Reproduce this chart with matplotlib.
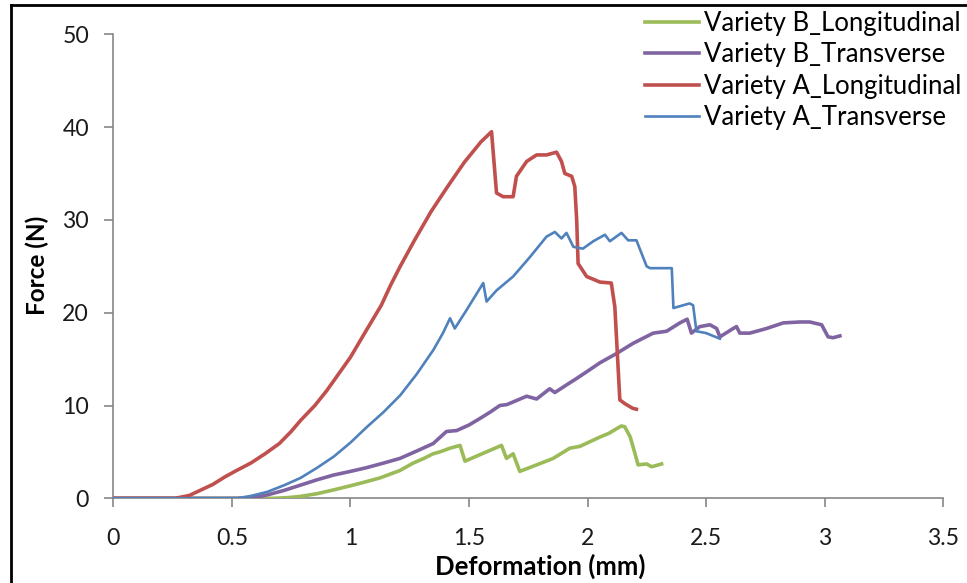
import matplotlib
matplotlib.use("Agg")
import matplotlib.pyplot as plt
from matplotlib.lines import Line2D

plt.rcParams['font.family'] = ['Lato', 'DejaVu Sans']

# Variety A_Longitudinal
a_long_x = [0, 0.26, 0.32, 0.37, 0.42, 0.47, 0.52, 0.58, 0.64, 0.70, 0.75, 0.79, 0.85, 0.90, 0.95,
            1.00, 1.06, 1.13, 1.17, 1.21, 1.27, 1.34, 1.41, 1.48, 1.55, 1.595,
            1.616, 1.644, 1.686, 1.70, 1.743, 1.785, 1.827, 1.869, 1.89, 1.904, 1.933, 1.946, 1.954,
            1.96, 1.996, 2.052, 2.10, 2.115, 2.136, 2.157, 2.19, 2.206]
a_long_y = [0, 0, 0.3, 0.9, 1.5, 2.3, 3.0, 3.8, 4.8, 5.9, 7.2, 8.4, 10.0, 11.6, 13.4,
            15.2, 17.8, 20.8, 23.0, 25.0, 27.8, 30.9, 33.6, 36.2, 38.4, 39.5,
            32.9, 32.5, 32.5, 34.7, 36.3, 37.0, 37.0, 37.3, 36.3, 35.0, 34.7, 33.6, 30.0,
            25.3, 23.9, 23.3, 23.2, 20.6, 10.6, 10.2, 9.7, 9.6]

# Variety A_Transverse
a_trans_x = [0, 0.52, 0.58, 0.65, 0.72, 0.79, 0.86, 0.93, 1.00, 1.07, 1.14, 1.21, 1.28, 1.35, 1.39,
             1.42, 1.44, 1.49, 1.56, 1.574, 1.616,
             1.686, 1.757, 1.827, 1.862, 1.89, 1.911, 1.94, 1.98, 2.024, 2.073, 2.094, 2.143,
             2.171, 2.206, 2.249, 2.263, 2.355, 2.362, 2.43, 2.445, 2.459, 2.50, 2.558]
a_trans_y = [0, 0, 0.25, 0.7, 1.4, 2.2, 3.3, 4.5, 6.0, 7.7, 9.3, 11.1, 13.4, 16.0, 17.8,
             19.4, 18.3, 20.3, 23.2, 21.2, 22.4,
             23.9, 26.0, 28.2, 28.7, 28.0, 28.6, 27.1, 26.9, 27.7, 28.4, 27.7, 28.6,
             27.8, 27.8, 25.0, 24.8, 24.8, 20.5, 21.0, 20.8, 18.0, 17.8, 17.2]

# Variety B_Transverse
b_trans_x = [0, 0.56, 0.60, 0.647, 0.72, 0.787, 0.86, 0.928, 1.00, 1.068, 1.14, 1.209, 1.28, 1.349,
             1.405, 1.448, 1.50, 1.546, 1.59, 1.63, 1.66,
             1.743, 1.785, 1.84, 1.862, 1.91, 1.953, 2.0, 2.052, 2.122, 2.192, 2.277, 2.333, 2.389, 2.42,
             2.438, 2.473, 2.516, 2.544, 2.558, 2.614, 2.628, 2.642, 2.684, 2.755, 2.825, 2.895,
             2.937, 2.987, 3.014, 3.035, 3.064]
b_trans_y = [0, 0, 0.12, 0.35, 0.85, 1.4, 2.0, 2.5, 2.9, 3.3, 3.8, 4.3, 5.1, 5.9,
             7.2, 7.3, 7.9, 8.6, 9.3, 10.0, 10.1,
             11.0, 10.7, 11.8, 11.4, 12.2, 12.9, 13.7, 14.6, 15.6, 16.7, 17.8, 18.0, 18.9, 19.3,
             17.8, 18.5, 18.7, 18.3, 17.4, 18.3, 18.5, 17.8, 17.8, 18.3, 18.9, 19.0,
             19.0, 18.7, 17.4, 17.3, 17.5]

# Variety B_Longitudinal
b_long_x = [0, 0.68, 0.74, 0.787, 0.86, 0.928, 1.00, 1.068, 1.125, 1.209, 1.265, 1.31, 1.349, 1.377,
            1.42, 1.462, 1.483, 1.546,
            1.637, 1.658, 1.686, 1.714, 1.785, 1.855, 1.925, 1.968, 2.01, 2.052, 2.09, 2.122, 2.143, 2.157,
            2.18, 2.20, 2.213, 2.249, 2.27, 2.312]
b_long_y = [0, 0, 0.08, 0.2, 0.5, 0.9, 1.35, 1.8, 2.2, 3.0, 3.8, 4.3, 4.8, 5.0,
            5.4, 5.7, 4.0, 4.7,
            5.7, 4.3, 4.8, 2.9, 3.6, 4.3, 5.4, 5.6, 6.1, 6.6, 7.0, 7.5, 7.8, 7.7,
            6.6, 4.8, 3.6, 3.7, 3.4, 3.7]

x_ticks = [0, 0.5, 1, 1.5, 2, 2.5, 3, 3.5]
x_tick_labels = ['0', '0.5', '1', '1.5', '2', '2.5', '3', '3.5']
y_ticks = [0, 10, 20, 30, 40, 50]

fig = plt.figure(figsize=(9.67, 5.83), dpi=100)
ax = fig.add_axes([113.3 / 967, 1 - 498.3 / 583, (943.3 - 113.3) / 967, (498.3 - 34.3) / 583])

ax.plot(b_long_x, b_long_y, color='#9BBB59', lw=2.6, label='Variety B_Longitudinal', zorder=3)
ax.plot(b_trans_x, b_trans_y, color='#8064A2', lw=2.6, label='Variety B_Transverse', zorder=3)
ax.plot(a_long_x, a_long_y, color='#C0504D', lw=2.6, label='Variety A_Longitudinal', zorder=3)
ax.plot(a_trans_x, a_trans_y, color='#4F81BD', lw=1.9, label='Variety A_Transverse', zorder=4)

ax.set_xlim(0, 3.5)
ax.set_ylim(0, 50)
ax.set_xticks(x_ticks)
ax.set_xticklabels(x_tick_labels)
ax.set_yticks(y_ticks)

for s in ['top', 'right']:
    ax.spines[s].set_visible(False)
for s in ['left', 'bottom']:
    ax.spines[s].set_color('#868686')
    ax.spines[s].set_linewidth(1.2)
ax.tick_params(axis='both', direction='out', length=6.5, width=1.2, color='#868686',
               labelsize=16.6, labelcolor='#1a1a1a')
ax.tick_params(axis='x', pad=15)
ax.tick_params(axis='y', pad=11)

ax.set_xlabel('Deformation (mm)', fontsize=18.5, fontweight='bold')
ax.xaxis.set_label_coords((540 - 113.3) / 830, (498.3 - 566) / 464)
ax.xaxis.label.set_verticalalignment('center')
ax.set_ylabel('Force (N)', fontsize=17.5, fontweight='bold')
ax.yaxis.set_label_coords((37 - 113.3) / 830, (498.3 - 265.5) / 464)
ax.yaxis.label.set_verticalalignment('center')

leg = ax.legend(loc='upper left', bbox_to_anchor=(645 / 967, 1 - 11 / 583),
                bbox_transform=fig.transFigure, frameon=False, fontsize=18.5,
                handlelength=2.1, handletextpad=0.18, labelspacing=0.25,
                borderpad=0, borderaxespad=0)

# partial outer frame (left and top edges visible)
fig.add_artist(Line2D([11 / 967, 11 / 967], [0, 1 - 5 / 583], transform=fig.transFigure,
                      color='black', lw=2))
fig.add_artist(Line2D([11 / 967, 1], [1 - 5 / 583, 1 - 5 / 583], transform=fig.transFigure,
                      color='black', lw=2))

fig.savefig('out.png', dpi=100)
